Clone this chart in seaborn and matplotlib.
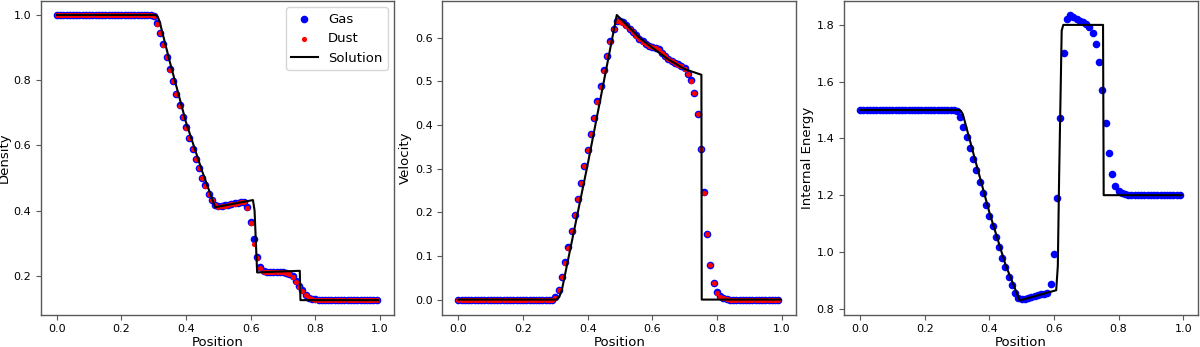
import numpy as np
import seaborn as sns
import matplotlib
matplotlib.use('Agg')
import matplotlib.pyplot as plt

# grid of positions (100 cells)
position = np.round(np.arange(100) * 0.01, 2)

# gas / dust values
gas_density = ([1.0] * 30 +
               [0.997, 0.974, 0.946, 0.910, 0.872, 0.833, 0.797, 0.759, 0.723, 0.688,
                0.655, 0.622, 0.589, 0.558, 0.530, 0.501, 0.477, 0.452, 0.432, 0.418,
                0.413, 0.414, 0.416, 0.418, 0.420, 0.422, 0.424, 0.426, 0.427, 0.410,
                0.365, 0.313, 0.257, 0.226, 0.213, 0.211, 0.211, 0.212, 0.212, 0.212,
                0.211, 0.209, 0.205, 0.198, 0.183, 0.167, 0.155, 0.142, 0.133, 0.129,
                0.127, 0.126] +
               [0.125] * 18)
dust_density = ([1.0] * 30 +
                [0.996, 0.972, 0.944, 0.909, 0.871, 0.832, 0.796, 0.758, 0.722, 0.687,
                 0.654, 0.621, 0.588, 0.557, 0.529, 0.500, 0.476, 0.451, 0.431, 0.417,
                 0.412, 0.413, 0.415, 0.417, 0.419, 0.421, 0.423, 0.425, 0.426, 0.408,
                 0.362, 0.297, 0.255, 0.225, 0.212, 0.210, 0.210, 0.211, 0.211, 0.211,
                 0.210, 0.208, 0.204, 0.197, 0.182, 0.166, 0.154, 0.141, 0.132, 0.128,
                 0.126, 0.125] +
                [0.124] * 18)

gas_velocity = ([0.0] * 29 + [-0.002] +
                [0.005, 0.023, 0.052, 0.085, 0.120, 0.158, 0.194, 0.231, 0.268, 0.306,
                 0.343, 0.380, 0.417, 0.454, 0.489, 0.525, 0.559, 0.592, 0.620, 0.639,
                 0.638, 0.635, 0.628, 0.621, 0.613, 0.605, 0.598, 0.592, 0.586, 0.582,
                 0.579, 0.577, 0.573, 0.566, 0.558, 0.552, 0.547, 0.543, 0.539, 0.535,
                 0.530, 0.517, 0.502, 0.474, 0.425, 0.345, 0.246, 0.151, 0.080, 0.038,
                 0.017, 0.008, 0.003, 0.001] +
                [0.0] * 16)
dust_velocity = ([0.0] * 29 + [-0.002] +
                 [0.004, 0.022, 0.051, 0.084, 0.119, 0.157, 0.193, 0.230, 0.267, 0.305,
                  0.342, 0.379, 0.416, 0.453, 0.488, 0.524, 0.558, 0.591, 0.619, 0.638,
                  0.637, 0.634, 0.627, 0.620, 0.612, 0.604, 0.597, 0.591, 0.585, 0.581,
                  0.578, 0.576, 0.572, 0.565, 0.557, 0.551, 0.546, 0.542, 0.538, 0.534,
                  0.529, 0.516, 0.501, 0.473, 0.424, 0.344, 0.245, 0.150, 0.079, 0.037,
                  0.016, 0.007, 0.003, 0.001] +
                 [0.0] * 16)

gas_energy = ([1.5] * 30 +
              [1.496, 1.474, 1.441, 1.406, 1.367, 1.326, 1.287, 1.246, 1.206, 1.167,
               1.127, 1.091, 1.053, 1.016, 0.980, 0.946, 0.913, 0.882, 0.855, 0.838,
               0.833, 0.835, 0.838, 0.841, 0.844, 0.847, 0.850, 0.853, 0.857, 0.886,
               0.994, 1.191, 1.471, 1.702, 1.821, 1.835, 1.827, 1.820, 1.815, 1.809,
               1.804, 1.794, 1.771, 1.734, 1.669, 1.571, 1.454, 1.347, 1.273, 1.233,
               1.214, 1.206, 1.203, 1.201] +
              [1.2] * 16)

# analytic solution (vertices of the black curve)
sol_density_x = [0.0, 0.305, 0.312, 0.318, 0.35, 0.40, 0.45, 0.49, 0.607, 0.612, 0.620, 0.752, 0.754, 0.995]
sol_density = [1.0, 1.0, 0.995, 0.98, 0.855, 0.67, 0.52, 0.41, 0.432, 0.40, 0.21, 0.215, 0.125, 0.125]

sol_velocity_x = [0.0, 0.303, 0.312, 0.320, 0.40, 0.49, 0.52, 0.56, 0.60, 0.65, 0.70, 0.752, 0.753, 0.995]
sol_velocity = [0.0, 0.0, 0.006, 0.022, 0.31, 0.652, 0.630, 0.600, 0.577, 0.550, 0.528, 0.515, 0.0, 0.0]

sol_energy_x = [0.0, 0.305, 0.312, 0.318, 0.35, 0.40, 0.45, 0.494, 0.607, 0.612, 0.616, 0.624, 0.629, 0.752, 0.754, 0.995]
sol_energy = [1.5, 1.5, 1.497, 1.485, 1.35, 1.14, 0.955, 0.829, 0.865, 0.95, 1.26, 1.78, 1.8, 1.8, 1.2, 1.2]

plt.rcParams['axes.edgecolor'] = '0.35'
plt.rcParams['axes.linewidth'] = 1.0
plt.rcParams['xtick.color'] = '0.35'
plt.rcParams['ytick.color'] = '0.35'
plt.rcParams['xtick.labelcolor'] = 'black'
plt.rcParams['ytick.labelcolor'] = 'black'

fig, axes = plt.subplots(1, 3, figsize=(12, 3.47), dpi=100)
fig.subplots_adjust(left=0.034, right=0.998, bottom=0.093, top=0.998, wspace=0.136)

panels = [
    (axes[0], gas_density, dust_density, sol_density_x, sol_density, 'Density'),
    (axes[1], gas_velocity, dust_velocity, sol_velocity_x, sol_velocity, 'Velocity'),
    (axes[2], gas_energy, None, sol_energy_x, sol_energy, 'Internal Energy'),
]

for ax, gas, dust, sx, sy, name in panels:
    sns.scatterplot(x=position, y=gas, ax=ax, color='blue', s=30, linewidth=0, label='Gas')
    if dust is not None:
        sns.scatterplot(x=position, y=dust, ax=ax, color='red', s=14, linewidth=0, label='Dust')
    sns.lineplot(x=sx, y=sy, ax=ax, color='black', linewidth=1.5, sort=False,
                 estimator=None, label='Solution')
    ax.set_xlabel('Position', fontsize=9.5, labelpad=1)
    ax.set_ylabel(name, fontsize=9.5, labelpad=2)
    ax.tick_params(labelsize=8)
    ax.set_xticks([0.0, 0.2, 0.4, 0.6, 0.8, 1.0])

axes[0].legend(loc='upper right', fontsize=9.5)
axes[1].get_legend().remove()
axes[2].get_legend().remove()

plt.savefig('out.png', dpi=100)
